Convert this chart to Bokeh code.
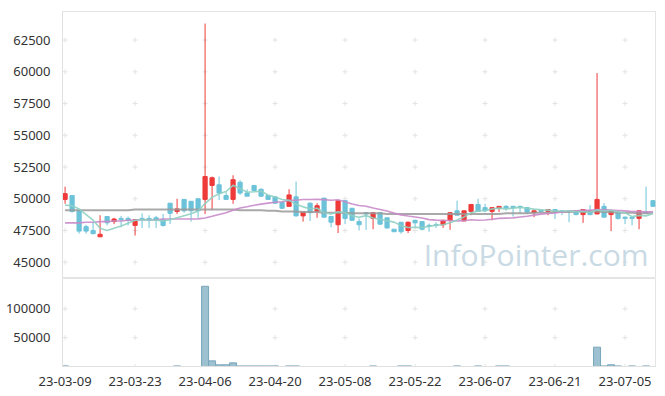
from bokeh.plotting import figure
from bokeh.layouts import column
from bokeh.models import ColumnDataSource, FixedTicker, Label, Range1d, NumeralTickFormatter
from bokeh.embed import file_html
from bokeh.resources import INLINE

# ---------------- data ----------------
dates = [
    "23-03-09", "23-03-10", "23-03-13", "23-03-14", "23-03-15", "23-03-16", "23-03-17",
    "23-03-20", "23-03-21", "23-03-22", "23-03-23", "23-03-24", "23-03-27", "23-03-28",
    "23-03-29", "23-03-30", "23-03-31", "23-04-03", "23-04-04", "23-04-05", "23-04-06",
    "23-04-07", "23-04-10", "23-04-11", "23-04-12", "23-04-13", "23-04-14", "23-04-17",
    "23-04-18", "23-04-19", "23-04-20", "23-04-21", "23-04-24", "23-04-25", "23-04-26",
    "23-04-27", "23-04-28", "23-05-02", "23-05-03", "23-05-04", "23-05-08", "23-05-09",
    "23-05-10", "23-05-11", "23-05-12", "23-05-15", "23-05-16", "23-05-17", "23-05-18",
    "23-05-19", "23-05-22", "23-05-23", "23-05-24", "23-05-25", "23-05-26", "23-05-30",
    "23-05-31", "23-06-01", "23-06-02", "23-06-05", "23-06-07", "23-06-08", "23-06-09",
    "23-06-12", "23-06-13", "23-06-14", "23-06-15", "23-06-16", "23-06-19", "23-06-20",
    "23-06-21", "23-06-22", "23-06-23", "23-06-26", "23-06-27", "23-06-28", "23-06-29",
    "23-06-30", "23-07-03", "23-07-04", "23-07-05", "23-07-06", "23-07-07", "23-07-10",
    "23-07-11",
]

opens = [
    49950, 50250, 49100, 47800, 47500, 47000, 48600, 48200, 48450, 48450,
    47900, 48450, 48450, 48500, 48350, 49650, 49000, 49950, 49800, 50000,
    49950, 51050, 51100, 50250, 49950, 51300, 50450, 51050, 50750, 50250,
    50150, 49700, 49400, 50150, 48650, 49650, 49000, 50050, 48600, 47950,
    49850, 49250, 48200, 48900, 48450, 48900, 48500, 47600, 48150, 47500,
    48300, 48200, 47900, 47950, 47950, 48300, 49050, 48250, 49000, 49550,
    49300, 49000, 49250, 49400, 49400, 49400, 49300, 48900, 49100, 49000,
    49150, 49050, 49050, 49050, 48750, 49050, 48800, 49400, 48750, 48950,
    48550, 48550, 48450, 48950, 49850,
]
highs = [
    50950, 50250, 49100, 47950, 48150, 48700, 48600, 48500, 48650, 48600,
    48350, 48850, 48700, 48650, 48800, 49650, 50000, 49950, 49800, 50000,
    63800, 51750, 51750, 50500, 51850, 51450, 50750, 51050, 50800, 50300,
    50200, 49750, 50750, 51350, 48950, 49700, 49650, 50050, 48600, 49850,
    49850, 49250, 48450, 48900, 48950, 48900, 48500, 47600, 48150, 48200,
    48350, 48250, 48050, 48150, 48350, 48900, 49850, 49050, 49550, 50000,
    49600, 49300, 49400, 49500, 49450, 49450, 49300, 49050, 49150, 49150,
    49150, 49100, 49100, 49100, 49150, 49500, 59900, 49650, 49050, 49050,
    48600, 48550, 49050, 50950, 49850,
]
lows = [
    49600, 48900, 47250, 47250, 47200, 47000, 47900, 48000, 47750, 47900,
    47100, 47700, 47700, 47700, 47800, 48000, 48800, 48900, 48200, 48500,
    48800, 49100, 49900, 49950, 49600, 50300, 50200, 50600, 50150, 49900,
    49600, 49200, 49400, 48600, 48200, 48250, 48500, 48550, 47750, 47300,
    48000, 48250, 47500, 47550, 47600, 47950, 47650, 47400, 47250, 47300,
    47750, 47500, 47400, 47700, 47700, 47550, 48700, 48250, 48700, 49000,
    48950, 48300, 48950, 49050, 48600, 48800, 48800, 48550, 48950, 48700,
    48400, 48700, 48150, 48700, 48100, 48700, 48800, 48550, 47450, 48350,
    48000, 47900, 47600, 48800, 49400,
]
closes = [
    50400, 49000, 47450, 47450, 47250, 47200, 48100, 48400, 48350, 48300,
    48350, 48350, 48300, 48300, 47900, 48850, 49200, 49050, 49050, 49050,
    51750, 51650, 50450, 49950, 51500, 50450, 50200, 50650, 50200, 49950,
    49650, 49250, 50300, 48650, 48950, 48900, 49450, 48550, 48150, 49850,
    48450, 48300, 47950, 48800, 48900, 48000, 47700, 47400, 47400, 48150,
    48100, 47600, 47850, 47900, 48300, 48900, 48700, 49050, 49550, 49000,
    49050, 49300, 49400, 49250, 49300, 49350, 48950, 49050, 49000, 49150,
    49000, 49000, 49000, 48750, 49150, 48750, 49950, 48550, 49050, 48450,
    48450, 48450, 49050, 48850, 49400,
]
volumes = [
    1000, 0, 0, 0, 0, 0, 0, 0, 0, 0,
    0, 0, 0, 0, 0, 0, 1000, 0, 0, 0,
    139000, 9800, 2900, 2900, 6300, 1000, 1000, 1000, 1000, 1000,
    1000, 0, 1000, 1000, 0, 0, 0, 0, 0, 0,
    0, 0, 0, 0, 1000, 0, 0, 0, 1000, 1000,
    0, 0, 0, 0, 0, 0, 1000, 0, 0, 1000,
    0, 0, 1000, 1000, 0, 0, 0, 0, 0, 0,
    0, 0, 0, 0, 0, 0, 33500, 1000, 3000, 1000,
    0, 1000, 0, 1000, 0,
]

# moving averages: the early values need history before the window
ma5_head = [49500, 49450, 49200, 48750]
ma20_head = [48100, 48100, 48100, 48150, 48150, 48200, 48200, 48250, 48250, 48300,
             48300, 48350, 48350, 48350, 48400, 48400, 48400, 48400, 48400]
ma60 = [
    49100, 49100, 49100, 49100, 49100, 49100, 49100, 49100, 49100, 49100,
    49150, 49150, 49150, 49150, 49150, 49150, 49150, 49150, 49150, 49150,
    49150, 49150, 49150, 49150, 49150, 49100, 49100, 49100, 49100, 49050,
    49050, 49000, 49000, 49000, 48950, 48950, 48950, 48900, 48900, 48900,
    48900, 48850, 48850, 48850, 48850, 48850, 48800, 48800, 48800, 48800,
    48800, 48800, 48800, 48800, 48800, 48800, 48800, 48800, 48800, 48800,
    48800, 48800, 48800, 48850, 48850, 48850, 48850, 48900, 48900, 48900,
    48950, 48950, 48950, 49000, 49000, 49000, 49000, 48950, 48950, 48900,
    48900, 48900, 48850, 48850, 48850,
]

price_ticks = [45000, 47500, 50000, 52500, 55000, 57500, 60000, 62500]
volume_ticks = [0, 50000, 100000]
volume_label_ticks = [50000, 100000]
watermark = "InfoPointer.com"


def rolling(vals, n, head):
    out = list(head)
    for i in range(len(head), len(vals)):
        out.append(sum(vals[i - n + 1:i + 1]) / n)
    return out


ma5 = rolling(closes, 5, ma5_head)
ma20 = rolling(closes, 20, ma20_head)

# ---------------- styles ----------------
UP = "#ef3a3a"
DOWN = "#6cc3d9"
FONT = "Noto Sans"
n = len(dates)
xs = list(range(n))
colors = [UP if c >= o else DOWN for o, c in zip(opens, closes)]
src = ColumnDataSource(dict(
    x=xs, o=opens, h=highs, l=lows, c=closes,
    top=[max(o, c) for o, c in zip(opens, closes)],
    bot=[min(o, c) for o, c in zip(opens, closes)],
    color=colors, vol=volumes, ma5=ma5, ma20=ma20, ma60=ma60,
))
x_ticks = list(range(0, n, 10))

xr = Range1d(-0.37, 84.35)


def style(p):
    p.outline_line_color = "#e4e4e4"
    p.outline_line_width = 1
    p.xgrid.visible = False
    p.ygrid.visible = False
    p.background_fill_color = "white"
    p.border_fill_color = "white"
    for ax in p.yaxis:
        ax.axis_line_color = "#e0e0e0"
        ax.major_tick_line_color = None
        ax.minor_tick_line_color = None
        ax.major_label_text_font = FONT
        ax.major_label_text_font_size = "13px"
        ax.major_label_text_color = "#333333"
        ax.major_label_standoff = 6
        ax.formatter = NumeralTickFormatter(format="0")


# ---------------- price panel ----------------
p = figure(width=660, height=278, x_range=xr, y_range=Range1d(43717, 64750),
           output_backend="svg", toolbar_location=None,
           min_border_left=62, min_border_right=5, min_border_top=11, min_border_bottom=0)
p.xaxis.visible = False
style(p)
p.yaxis.ticker = FixedTicker(ticks=price_ticks)

gx = [x for x in x_ticks for _ in price_ticks]
gy = [y for _ in x_ticks for y in price_ticks]
p.scatter(gx, gy, marker="cross", size=5, line_color="#e3e3e3", line_width=1)

p.segment(x0="x", y0="l", x1="x", y1="h", source=src, line_color="color", line_width=1)
p.vbar(x="x", top="top", bottom="bot", width=0.6, source=src,
       fill_color="color", line_color="color", line_width=1)

p.line("x", "ma60", source=src, line_color="#9a9a9a", line_width=2, line_alpha=0.85)
p.line("x", "ma20", source=src, line_color="#c98bc9", line_width=1.6, line_alpha=0.9)
p.line("x", "ma5", source=src, line_color="#8fd0c2", line_width=1.6, line_alpha=0.9)

p.add_layout(Label(x=586, y=24, x_units="screen", y_units="screen", text=watermark,
                   text_align="right", text_baseline="alphabetic",
                   text_font="Open Sans", text_font_size="30px",
                   text_color="#c9dae5"))

# ---------------- volume panel ----------------
v = figure(width=660, height=110, x_range=xr, y_range=Range1d(0, 152500),
           output_backend="svg", toolbar_location=None,
           min_border_left=62, min_border_right=5, min_border_top=0, min_border_bottom=21)
style(v)
v.yaxis.ticker = FixedTicker(ticks=volume_label_ticks)
v.xaxis.ticker = FixedTicker(ticks=x_ticks)
v.xaxis.major_label_overrides = {i: dates[i] for i in x_ticks}
v.xaxis.axis_line_color = "#e0e0e0"
v.xaxis.major_tick_line_color = None
v.xaxis.minor_tick_line_color = None
v.xaxis.major_label_text_font = FONT
v.xaxis.major_label_text_font_size = "13px"
v.xaxis.major_label_text_color = "#333333"
v.xaxis.major_label_standoff = 4

vx = [x for x in x_ticks for _ in volume_ticks]
vy = [y for _ in x_ticks for y in volume_ticks]
v.scatter(vx, vy, marker="cross", size=5, line_color="#e3e3e3", line_width=1)
v.vbar(x="x", top="vol", bottom=0, width=1.0, source=src,
       fill_color="#9dc1d1", line_color="#78a6bb", line_width=1)

layout = column(p, v)
open("out.html", "w").write(file_html(layout, INLINE))
